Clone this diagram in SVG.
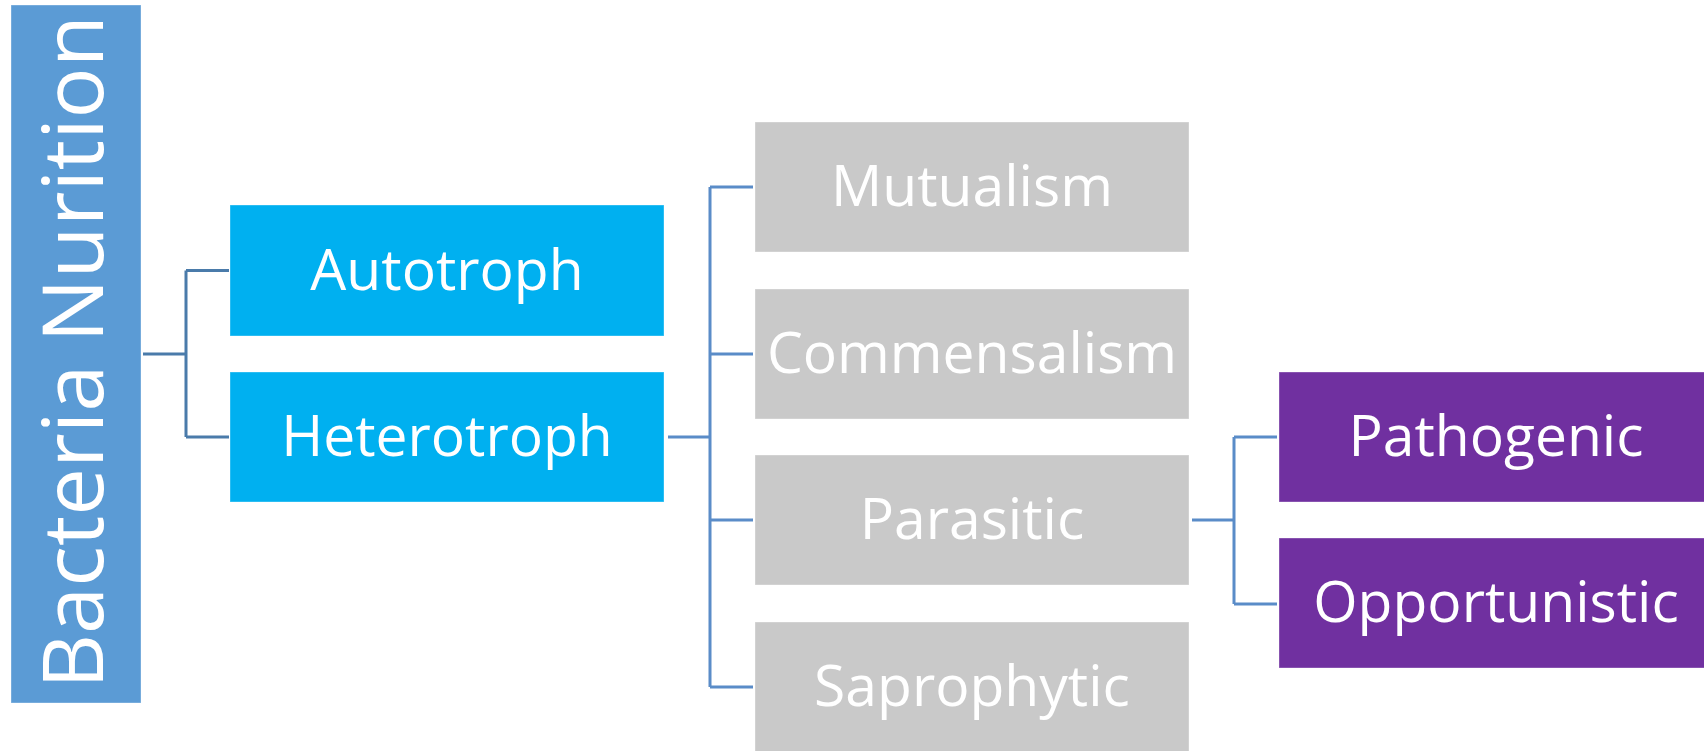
<svg xmlns="http://www.w3.org/2000/svg" width="1704" height="751" viewBox="0 0 1704 751">
<style>
.box{stroke:#ffffff;stroke-opacity:0.35;stroke-width:1}
.root{fill:#5B9BD5}
.l1{fill:#00B0F0}
.l2{fill:#C9C9C9}
.l3{fill:#7030A0}
.t{font-family:"Open Sans","Noto Sans",sans-serif;font-size:57px;fill:#ffffff;text-anchor:middle}
.rt{font-family:"Open Sans","Noto Sans",sans-serif;font-size:85px;fill:#ffffff;text-anchor:middle}
.c1{fill:none;stroke:#4A7BAA;stroke-width:3}
.c2{fill:none;stroke:#5A8CC8;stroke-width:3}
</style>
<rect width="1704" height="751" fill="#ffffff"/>
<g id="connectors">
<path class="c1" d="M143,354 H186 M186,270.5 V437 M186,270.5 H229 M186,437 H229"/>
<path class="c2" d="M668,437 H710 M710,187 V687 M710,187 H753 M710,354 H753 M710,520 H753 M710,687 H753"/>
<path class="c2" d="M1192,520 H1234 M1234,437 V604 M1234,437 H1277 M1234,604 H1277"/>
</g>
<g id="node-root">
<rect class="box root" x="11" y="5" width="130" height="698"/>
<text class="rt" transform="translate(103,352) rotate(-90)">Bacteria Nurition</text>
</g>
<g id="node-autotroph">
<rect class="box l1" x="230" y="205" width="434" height="131"/>
<text class="t" x="447" y="289.5">Autotroph</text>
</g>
<g id="node-heterotroph">
<rect class="box l1" x="230" y="372" width="434" height="130"/>
<text class="t" x="447" y="456">Heterotroph</text>
</g>
<g id="node-mutualism">
<rect class="box l2" x="755" y="122" width="434" height="130"/>
<text class="t" x="972" y="206">Mutualism</text>
</g>
<g id="node-commensalism">
<rect class="box l2" x="755" y="289" width="434" height="130"/>
<text class="t" x="972" y="373">Commensalism</text>
</g>
<g id="node-parasitic">
<rect class="box l2" x="755" y="455" width="434" height="130"/>
<text class="t" x="972" y="539">Parasitic</text>
</g>
<g id="node-saprophytic">
<rect class="box l2" x="755" y="622" width="434" height="130"/>
<text class="t" x="972" y="706">Saprophytic</text>
</g>
<g id="node-pathogenic">
<rect class="box l3" x="1279" y="372" width="434" height="130"/>
<text class="t" x="1496" y="456">Pathogenic</text>
</g>
<g id="node-opportunistic">
<rect class="box l3" x="1279" y="538" width="434" height="130"/>
<text class="t" x="1496" y="622">Opportunistic</text>
</g>
</svg>
